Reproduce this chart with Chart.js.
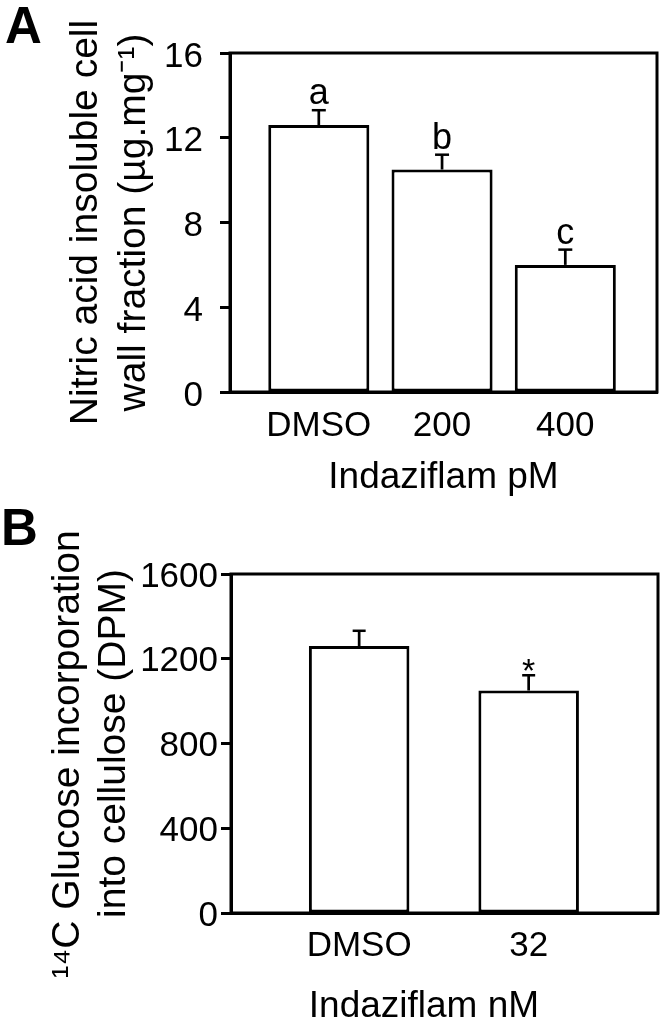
<!DOCTYPE html>
<html><head><meta charset="utf-8">
<script src="https://cdn.jsdelivr.net/npm/chart.js@4.4.1/dist/chart.umd.min.js"></script>
<style>
html,body{margin:0;padding:0;background:#fff;width:664px;height:1020px;overflow:hidden}
.wrap{position:absolute;left:0;width:664px;height:510px}
.panel{position:absolute;font-family:"Liberation Sans",Arial,sans-serif;font-weight:bold;font-size:51px;line-height:51px;color:#000}
</style></head><body>
<div class="wrap" style="top:0"><canvas id="cA" width="664" height="510"></canvas></div>
<div class="wrap" style="top:510px"><canvas id="cB" width="664" height="510"></canvas></div>
<div class="panel" style="left:5px;top:0px">A</div>
<div class="panel" style="left:1px;top:502px">B</div>
<script>
// ---- Panel A data ----
const categoriesA = ['DMSO', '200', '400'];
const valuesA = [12.6, 10.5, 6.0];
const errorsA = [0.7, 0.7, 0.72];
const lettersA = ['a', 'b', 'c'];
const yTicksA = [0, 4, 8, 12, 16];

// ---- Panel B data ----
const categoriesB = ['DMSO', '32'];
const valuesB = [1260, 1050];
const errorsB = [72, 72];
const lettersB = ['', '*'];
const yTicksB = [0, 400, 800, 1200, 1600];

const FONT = '"Liberation Sans", Arial, sans-serif';

const decor = {
  id: 'decor',
  afterDatasetsDraw(chart, args, opts) {
    const {ctx, chartArea: a, scales: {x, y}} = chart;
    const ds = chart.data.datasets[0];
    ctx.save();
    ctx.strokeStyle = '#000';
    ctx.fillStyle = '#000';
    ctx.lineWidth = 3;
    ctx.strokeRect(a.left, a.top, a.right - a.left, a.bottom - a.top);
    ds.data.forEach((p, i) => {
      const px = x.getPixelForValue(p.x);
      const yTop = y.getPixelForValue(p.y);
      const yErr = y.getPixelForValue(p.y + opts.errors[i]);
      ctx.lineWidth = 2.7;
      ctx.beginPath();
      ctx.moveTo(px, yTop);
      ctx.lineTo(px, yErr);
      ctx.stroke();
      ctx.lineWidth = 2.5;
      ctx.beginPath();
      ctx.moveTo(px - opts.capWidth / 2, yErr);
      ctx.lineTo(px + opts.capWidth / 2, yErr);
      ctx.stroke();
      const t = opts.marks[i];
      if (t) {
        ctx.font = opts.markSize + 'px ' + FONT;
        ctx.textAlign = 'center';
        ctx.textBaseline = 'alphabetic';
        const m = ctx.measureText(t);
        ctx.fillText(t, px, yErr - opts.markGap - m.actualBoundingBoxDescent);
      }
    });
    ctx.restore();
  }
};

function makeChart(id, c) {
  return new Chart(document.getElementById(id), {
    type: 'bar',
    data: {
      datasets: [{
        data: c.values.map((v, i) => ({x: i, y: v})),
        backgroundColor: '#fff',
        borderColor: '#000',
        borderWidth: 3,
        borderSkipped: false,
        categoryPercentage: 1,
        barPercentage: c.barPct
      }]
    },
    options: {
      responsive: false,
      animation: false,
      devicePixelRatio: 1,
      layout: {padding: {left: 0, top: c.padTop, right: c.padRight, bottom: 0}},
      plugins: {
        legend: {display: false},
        tooltip: {enabled: false},
        decor: {errors: c.errors, marks: c.marks, capWidth: c.capWidth, markSize: c.markSize, markGap: c.markGap}
      },
      scales: {
        x: {
          type: 'linear',
          offset: false,
          bounds: 'data',
          min: c.xMin,
          max: c.xMax,
          afterBuildTicks: s => { s.ticks = c.cats.map((_, i) => ({value: i})); },
          afterFit: s => { s.height = c.xHeight; },
          grid: {display: false, offset: false, drawTicks: false, tickLength: 0},
          border: {display: true, color: '#000', width: 3},
          ticks: {
            callback: v => c.cats[v],
            font: {family: FONT, size: 35},
            color: '#000',
            padding: c.xTickPad,
            maxRotation: 0,
            autoSkip: false,
            includeBounds: false
          },
          title: {
            display: true,
            text: c.xTitle,
            font: {family: FONT, size: 37},
            color: '#000',
            padding: {top: 0, bottom: c.xTitlePad}
          }
        },
        y: {
          min: c.yTicks[0],
          max: c.yTicks[c.yTicks.length - 1],
          afterBuildTicks: s => { s.ticks = c.yTicks.map(v => ({value: v})); },
          afterFit: s => { s.width = c.yWidth; },
          grid: {drawOnChartArea: false, drawTicks: true, tickLength: 10, tickWidth: 3, tickColor: '#000', color: '#000'},
          border: {display: true, color: '#000', width: 3},
          ticks: {
            callback: v => String(v),
            font: {family: FONT, size: 35},
            color: '#000',
            padding: c.yTickPad,
            labelOffset: c.yLabelOffset
          },
          title: {
            display: true,
            text: c.yTitle,
            font: {family: FONT, size: 39, lineHeight: c.yTitleLH},
            color: '#000',
            padding: {top: c.yTitlePad, bottom: 0}
          }
        }
      }
    },
    plugins: [decor]
  });
}

makeChart('cA', {
  cats: categoriesA, values: valuesA, errors: errorsA, marks: lettersA, yTicks: yTicksA,
  barPct: 0.82, xMin: -0.7205, xMax: 2.744,
  padTop: 53, padRight: 7, yWidth: 230, xHeight: 118,
  xTickPad: 13, xTitle: 'Indaziflam pM', xTitlePad: 10.4,
  yTickPad: 17, yLabelOffset: 4,
  yTitle: ['Nitric acid insoluble cell', 'wall fraction (\u00B5g.mg\u207B\u00B9)'],
  yTitleLH: 1.2308, yTitlePad: 62.5,
  capWidth: 14, markSize: 36, markGap: 6
});

makeChart('cB', {
  cats: categoriesB, values: valuesB, errors: errorsB, marks: lettersB, yTicks: yTicksB,
  barPct: 0.593, xMin: -0.756, xMax: 1.763,
  padTop: 64, padRight: 6, yWidth: 231, xHeight: 107,
  xTickPad: 12, xTitle: 'Indaziflam nM    ', xTitlePad: -8.7,
  yTickPad: 3, yLabelOffset: 3,
  yTitle: ['\u00B9\u2074C Glucose incorporation  ', 'into cellulose (DPM)'],
  yTitleLH: 1.179, yTitlePad: 45.5,
  capWidth: 13, markSize: 34, markGap: 4
});
</script>
</body></html>
